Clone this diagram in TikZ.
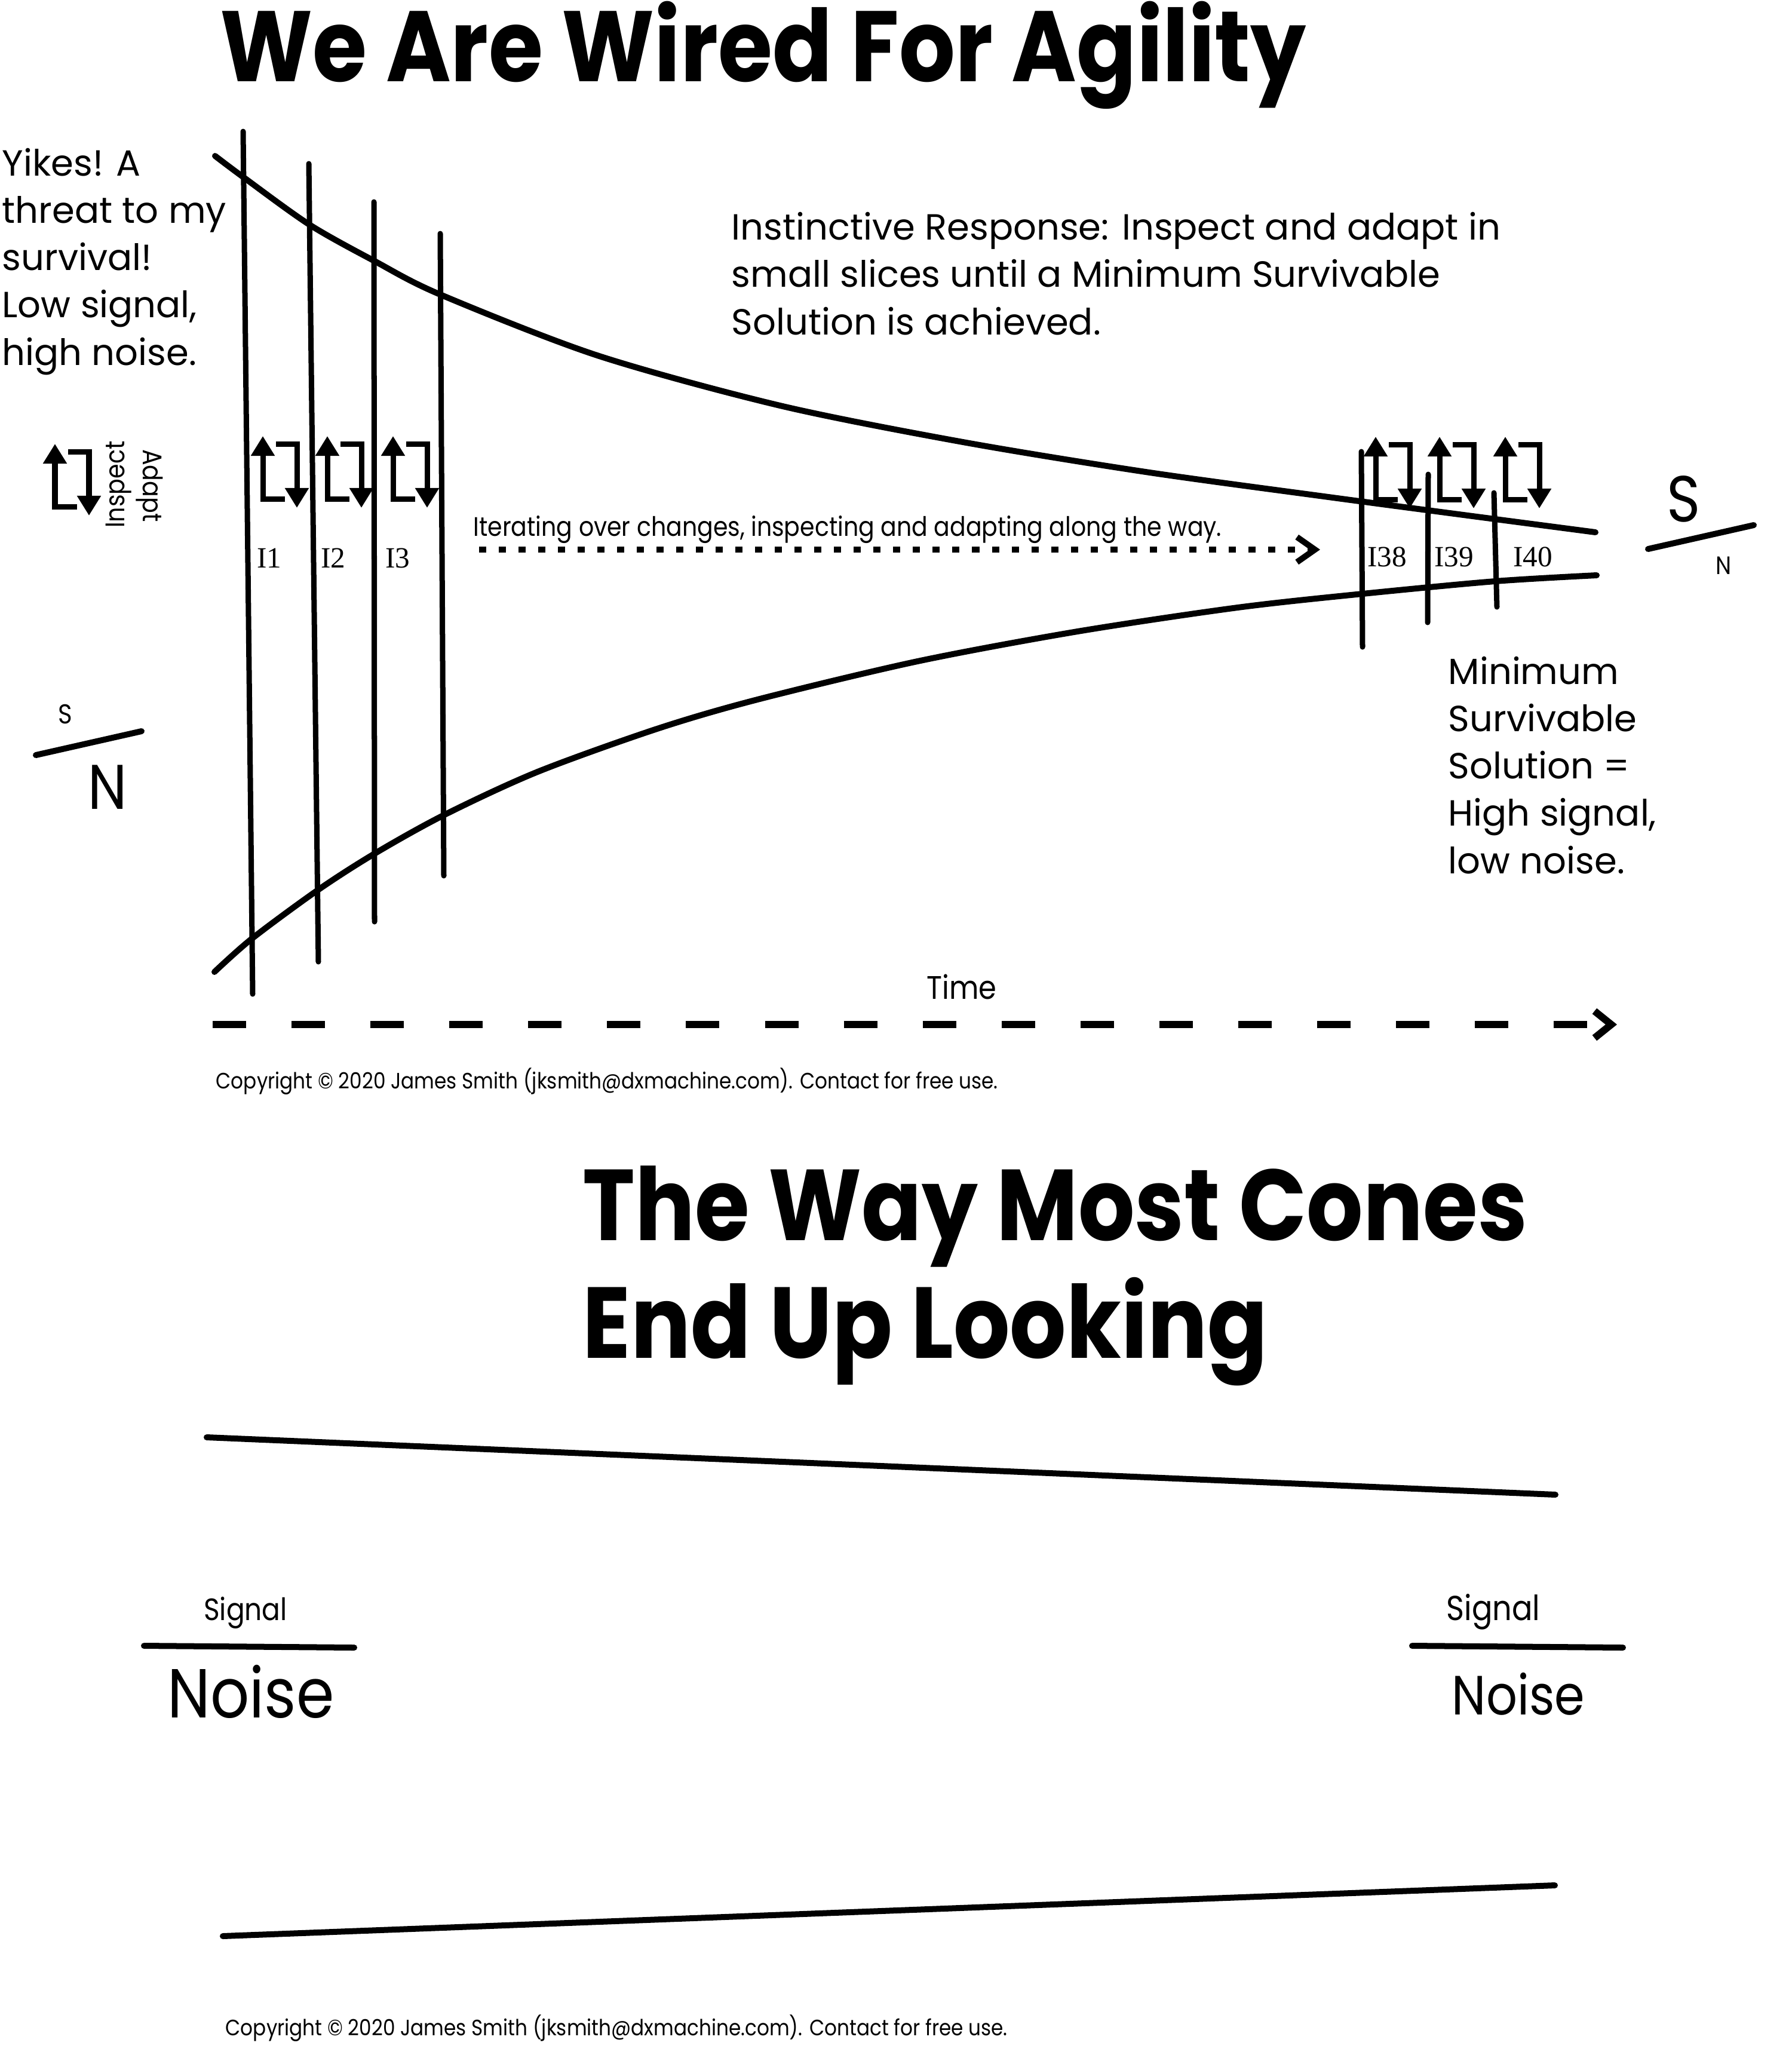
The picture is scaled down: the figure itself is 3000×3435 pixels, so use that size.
\documentclass[tikz,border=0pt]{standalone}
\usepackage{fontspec}
\setmainfont{Poppins}[FakeStretch=0.88]
\newfontfamily\notefont{Poppins}
\newfontfamily\tagfont{Liberation Serif}
\definecolor{ink}{RGB}{0, 0, 0}
\usetikzlibrary{arrows.meta, positioning}
\tikzset{
	headline/.style={inner sep=0pt, anchor=base west, align=left, text=ink, font=\fontsize{47.7}{56}\selectfont\bfseries},
	note/.style={inner sep=0pt, anchor=base west, align=left, text=ink, font=\notefont\fontsize{17.3}{22.5}\selectfont},
	caption/.style={inner sep=0pt, anchor=base west, text=ink, font=\fontsize{12.75}{16}\selectfont},
	fineprint/.style={inner sep=0pt, anchor=base west, text=ink, font=\fontsize{10.57}{12}\selectfont},
	tag/.style={inner sep=0pt, text=ink, font=\tagfont\fontsize{14}{16}\selectfont},
	snlabel/.style={inner sep=0pt, text=ink},
	cone/.style={line width=0.10cm, draw=ink, line cap=round},
	iteration/.style={line width=0.09cm, draw=ink, line cap=round},
	loopline/.style={line width=0.09cm, draw=ink, -{Triangle[length=0.33cm, width=0.38cm]}},
	dotarrow/.style={line width=0.10cm, draw=ink, dash pattern=on 0.12cm off 0.21cm, -{Straight Barb[length=0.3cm, width=0.42cm]}},
	timearrow/.style={line width=0.12cm, draw=ink, dash pattern=on 0.56cm off 0.76cm, -{Straight Barb[length=0.28cm, width=0.45cm]}},
	adaptloop/.pic={
		\draw[loopline] (37,105) -- (0,105) -- (0,0);
		\draw[loopline] (22,13) -- (57,13) -- (57,120);
	},
}

\begin{document}
\begin{tikzpicture}[x=0.01cm, y=-0.01cm]
	\useasboundingbox (0,0) rectangle (3000,3435);
	% top half
	\node[headline] (wired) at (368,136) {We Are Wired For Agility};
	\node[note] (yikes) at (3,611) {Yikes! A\\threat to my\\survival!\\Low signal,\\high noise.};
	\node[note] (instinct) at (1224,560) {Instinctive Response: Inspect and adapt in\\small slices until a Minimum Survivable\\Solution is achieved.};
	\node[note] (mss) at (2424,1462) {Minimum\\Survivable\\Solution =\\High signal,\\low noise.};
	% legend
	\pic at (92,743) {adaptloop};
	\node[snlabel, rotate=90, font=\fontsize{12.8}{14}\selectfont] (inspect) at (199,811) {Inspect};
	\node[snlabel, rotate=-90, font=\fontsize{12.8}{14}\selectfont] (adapt) at (250,813) {Adapt};
	\node[snlabel, font=\fontsize{13}{15}\selectfont] (ls) at (109,1195) {S};
	\node[snlabel, font=\fontsize{30}{34}\selectfont] (ln) at (180,1318) {N};
	\coordinate (lbara) at (60,1264);
	\coordinate (lbarb) at (237,1224);
	\draw[cone] (lbara) -- (lbarb);
	\node[snlabel, font=\fontsize{31}{34}\selectfont] (rs) at (2819,835) {S};
	\node[snlabel, font=\fontsize{12}{14}\selectfont] (rn) at (2886,947) {N};
	\coordinate (rbara) at (2759,919);
	\coordinate (rbarb) at (2936,879);
	\draw[cone] (rbara) -- (rbarb);
	% cone
	\draw[cone] plot[smooth] coordinates {(360,261) (408,297) (518,376) (627,437) (737,493) (1000,595) (1306,679) (1612,740) (1918,790) (2224,832) (2450,862) (2671,891)};
	\draw[cone] plot[smooth] coordinates {(359,1627) (422,1571) (532,1490) (627,1429) (744,1364) (900,1292) (1100,1220) (1268,1171) (1536,1107) (1804,1057) (2072,1017) (2281,994) (2503,973) (2673,963)};
	% iterations
	\draw[iteration] (407,220) -- (423,1664);
	\draw[iteration] (517,274) -- (533,1610);
	\draw[iteration] (626,338) -- (627,1543);
	\draw[iteration] (737,391) -- (743,1466);
	\draw[iteration] (2279,756) -- (2281,1083);
	\draw[iteration] (2391,794) -- (2390,1042);
	\draw[iteration] (2501,825) -- (2506,1016);
	\pic at (440,730) {adaptloop};
	\pic at (548,730) {adaptloop};
	\pic at (658,730) {adaptloop};
	\pic at (2303,731) {adaptloop};
	\pic at (2410,731) {adaptloop};
	\pic at (2520,731) {adaptloop};
	\node[tag] (i1) at (451,934) {I1};
	\node[tag] (i2) at (558,934) {I2};
	\node[tag] (i3) at (666,934) {I3};
	\node[tag] (i38) at (2322,932) {I38};
	\node[tag] (i39) at (2434,932) {I39};
	\node[tag] (i40) at (2566,932) {I40};
	% iterating and time
	\node[caption] (iterate) at (792,897) {Iterating over changes, inspecting and adapting along the way.};
	\coordinate (dotstart) at (802,920);
	\coordinate (dotend) at (2210,920);
	\draw[dotarrow] (dotstart) -- (dotend);
	\node[caption, font=\fontsize{15.5}{18}\selectfont] (time) at (1551,1672) {Time};
	\coordinate (timestart) at (356,1715);
	\coordinate (timeend) at (2707,1715);
	\draw[timearrow] (timestart) -- (timeend);
	\node[fineprint] (copyone) at (361,1822) {Copyright © 2020 James Smith (jksmith@dxmachine.com). Contact for free use.};
	% bottom half
	\node[headline, font=\fontsize{48}{56}\selectfont\bfseries] (cones) at (975,2273) {The Way Most Cones\\End Up Looking};
	\coordinate (topa) at (346,2406);
	\coordinate (topb) at (2604,2502);
	\draw[cone] (topa) -- (topb);
	\coordinate (bota) at (373,3241);
	\coordinate (botb) at (2603,3156);
	\draw[cone] (bota) -- (botb);
	\node[snlabel, anchor=base, font=\fontsize{14.7}{16}\selectfont] (lsignal) at (411,2712) {Signal};
	\coordinate (lfraca) at (241,2755);
	\coordinate (lfracb) at (593,2758);
	\draw[cone] (lfraca) -- (lfracb);
	\node[snlabel, anchor=base, font=\fontsize{33}{36}\selectfont] (lnoise) at (420,2875) {Noise};
	\node[snlabel, anchor=base, font=\fontsize{16.5}{18}\selectfont] (rsignal) at (2500,2712) {Signal};
	\coordinate (rfraca) at (2364,2755);
	\coordinate (rfracb) at (2717,2758);
	\draw[cone] (rfraca) -- (rfracb);
	\node[snlabel, anchor=base, font=\fontsize{26.3}{30}\selectfont] (rnoise) at (2542,2870) {Noise};
	\node[fineprint] (copytwo) at (377,3407) {Copyright © 2020 James Smith (jksmith@dxmachine.com). Contact for free use.};
\end{tikzpicture}
\end{document}
